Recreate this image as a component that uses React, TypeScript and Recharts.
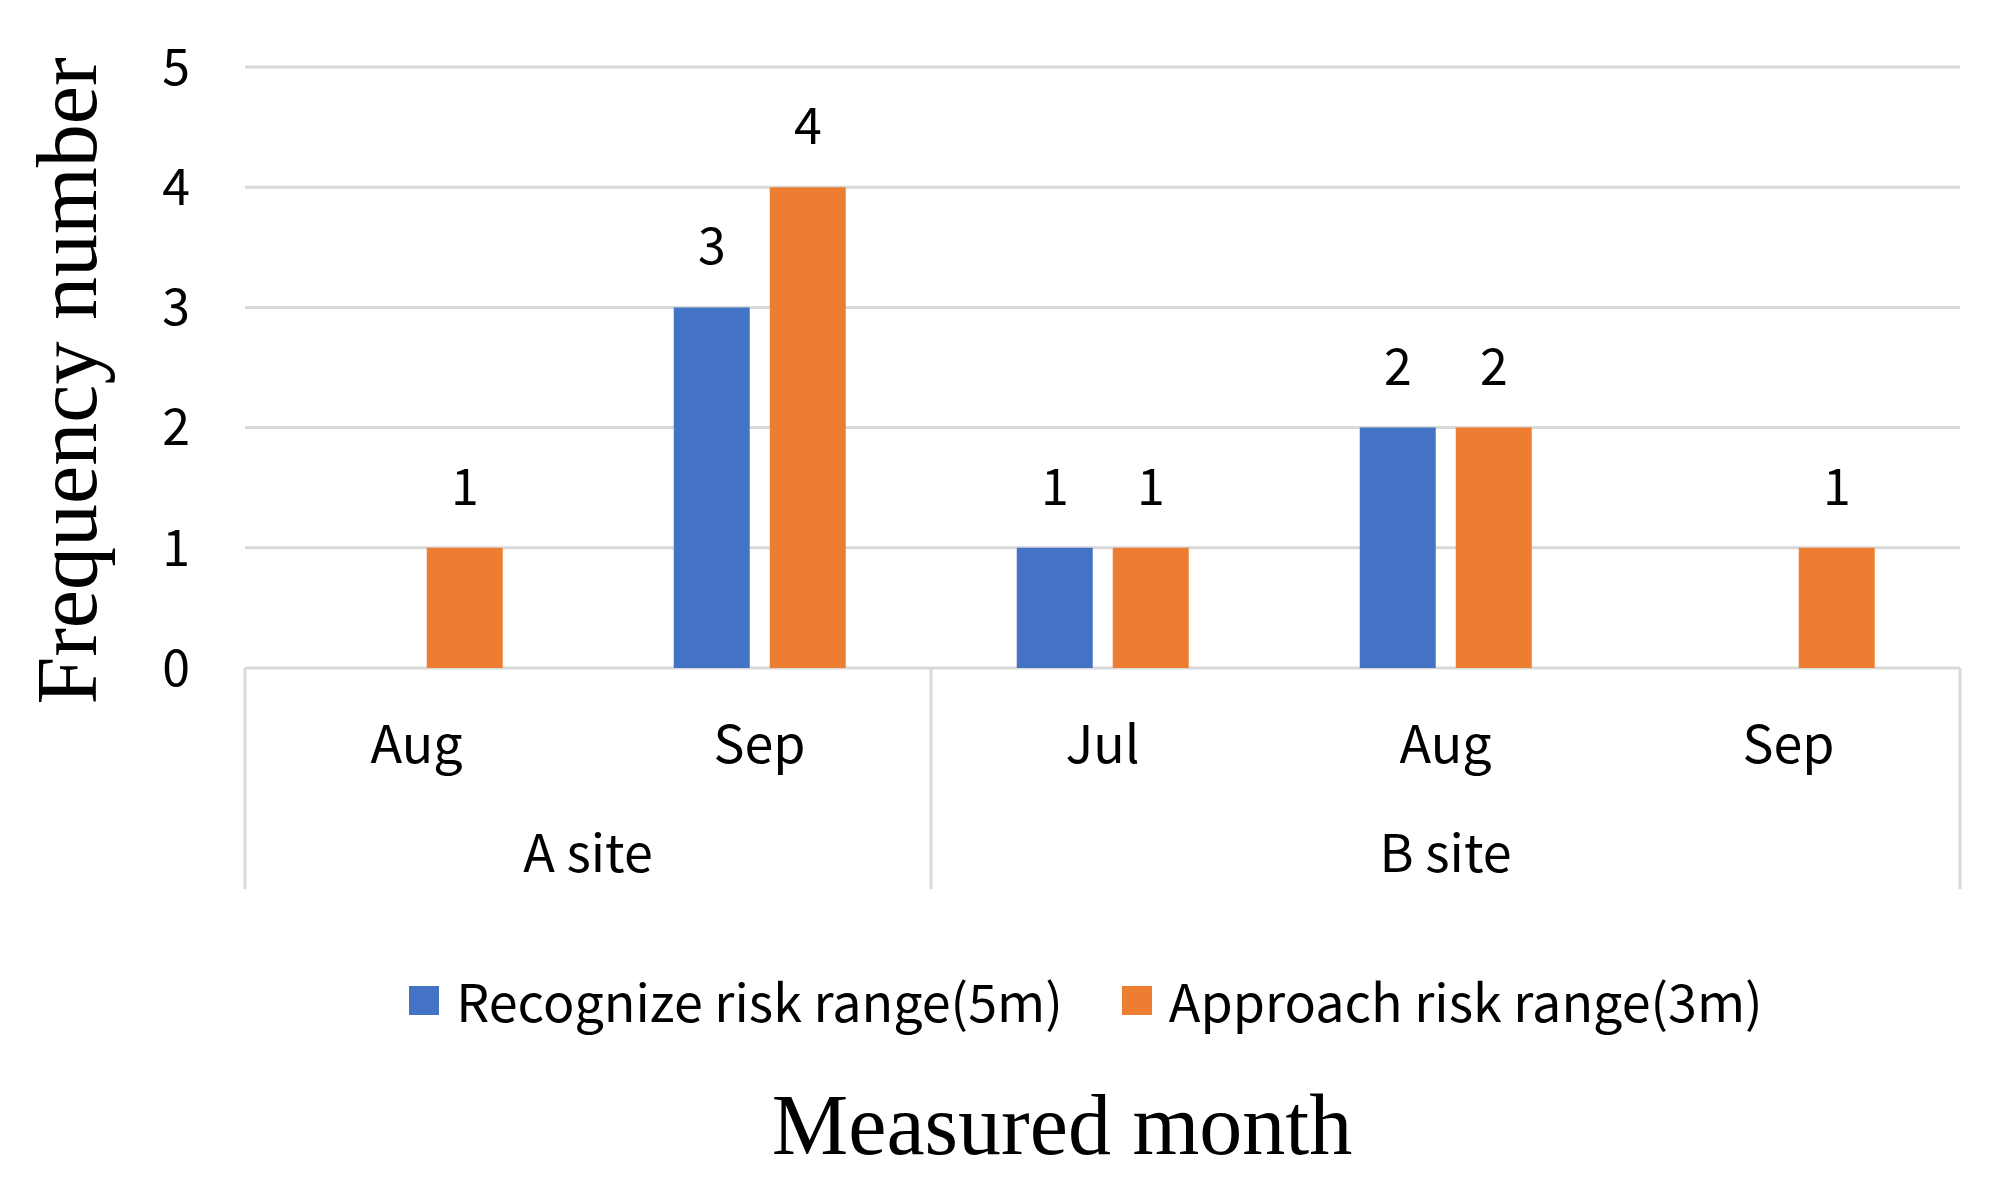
import React from 'react'
import { BarChart, Bar, XAxis, YAxis, CartesianGrid, Legend, LabelList, Customized } from 'recharts'

const months = ['Aug', 'Sep', 'Jul', 'Aug', 'Sep']
const sites = ['A site', 'A site', 'B site', 'B site', 'B site']
const recognize = [0, 3, 1, 2, 0]
const approach = [1, 4, 1, 2, 1]
const yTicks = [0, 1, 2, 3, 4, 5]
const seriesNames = ['Recognize risk range(5m)', 'Approach risk range(3m)']

const W = 2006
const H = 1183
const MARGIN = { top: 67, right: 46, left: 0, bottom: 158 }
const Y_AXIS_W = 245
const PLOT_W = W - MARGIN.left - MARGIN.right - Y_AXIS_W

const SANS = '"Noto Sans CJK KR", "Noto Sans", sans-serif'
const SERIF = '"Liberation Serif", "DejaVu Serif", serif'
const GRID = '#d9d9d9'

const data = months.map((m, i) => ({
  id: `${sites[i]}-${m}`,
  month: m,
  site: sites[i],
  recognize: recognize[i],
  approach: approach[i],
}))

// month label + site group label + separators under the axis
function GroupTick(props: any) {
  const { x, y, index } = props
  const bw = (props.width ?? PLOT_W) / months.length
  const site = sites[index]
  const start = sites.indexOf(site)
  const len = sites.filter(s => s === site).length
  const first = index === start
  const lastAll = index === sites.length - 1
  const groupCenter = x - (index - start) * bw - bw / 2 + (len * bw) / 2
  return (
    <g>
      <text x={x} y={y + 95} textAnchor="middle" fontSize={52} fontFamily={SANS} fill="#000">
        {months[index]}
      </text>
      {first && (
        <text x={groupCenter} y={y + 204} textAnchor="middle" fontSize={52} fontFamily={SANS} fill="#000">
          {site}
        </text>
      )}
      {first && <line x1={x - bw / 2} x2={x - bw / 2} y1={y} y2={y + 221} stroke={GRID} strokeWidth={3} />}
      {lastAll && <line x1={x + bw / 2} x2={x + bw / 2} y1={y} y2={y + 221} stroke={GRID} strokeWidth={3} />}
    </g>
  )
}

function LegendContent({ payload }: any) {
  const items = [...(payload || [])].sort(
    (a: any, b: any) => seriesNames.indexOf(a.value) - seriesNames.indexOf(b.value)
  )
  return (
    <div style={{ display: 'flex', justifyContent: 'center', alignItems: 'center', height: 50, paddingLeft: 212 }}>
      {items.map((p: any, i: number) => (
        <div key={i} style={{ display: 'flex', alignItems: 'center', marginRight: i === 0 ? 59 : 0 }}>
          <span style={{ width: 30, height: 29, background: p.color, display: 'inline-block', marginRight: 17 }} />
          <span style={{ fontFamily: SANS, fontSize: 52, color: '#000', lineHeight: '50px' }}>{p.value}</span>
        </div>
      ))}
    </div>
  )
}

function Titles() {
  return (
    <g>
      <text x={96} y={381} transform="rotate(-90, 96, 381)" textAnchor="middle" fontSize={86} fontFamily={SERIF} fill="#000">
        Frequency number
      </text>
      <text x={1062} y={1154} textAnchor="middle" fontSize={86} fontFamily={SERIF} fill="#000">
        Measured month
      </text>
    </g>
  )
}

const hideZero = (v: any) => (Number(v) === 0 ? '' : v)

export default function App() {
  document.body.style.margin = '0'
  return (
    <div style={{ width: W, height: H, background: '#fff' }}>
      <BarChart width={W} height={H} data={data} margin={MARGIN} barCategoryGap="25%" barGap={20}>
        <CartesianGrid vertical={false} stroke={GRID} strokeWidth={3} />
        <XAxis
          dataKey="id"
          axisLine={false}
          tickLine={false}
          tickSize={0}
          tickMargin={0}
          height={307}
          interval={0}
          tick={<GroupTick />}
        />
        <YAxis
          domain={[0, 5]}
          ticks={yTicks}
          axisLine={false}
          tickLine={false}
          tickSize={0}
          tickMargin={55}
          width={Y_AXIS_W}
          tick={{ fontSize: 50, fill: '#000', fontFamily: SANS }}
        />
        <Legend verticalAlign="bottom" content={<LegendContent />} />
        <Bar dataKey="recognize" name={seriesNames[0]} fill="#4472C4" isAnimationActive={false}>
          <LabelList dataKey="recognize" position="top" offset={43} formatter={hideZero} fontSize={50} fill="#000" fontFamily={SANS} />
        </Bar>
        <Bar dataKey="approach" name={seriesNames[1]} fill="#ED7D31" isAnimationActive={false}>
          <LabelList dataKey="approach" position="top" offset={43} formatter={hideZero} fontSize={50} fill="#000" fontFamily={SANS} />
        </Bar>
        <Customized component={Titles} />
      </BarChart>
    </div>
  )
}
